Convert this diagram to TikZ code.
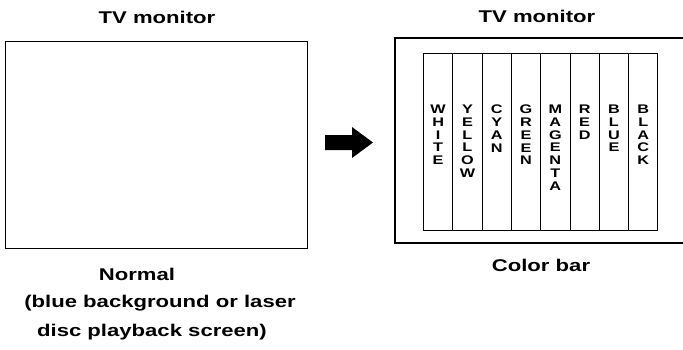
\documentclass[tikz,border=0pt]{standalone}
\usepackage{fontspec}
\setmainfont{Liberation Sans}[FakeStretch=1.3]
\usetikzlibrary{positioning}
\begin{document}
\begin{tikzpicture}[x=1pt, y=-1pt, >=stealth,
    screen/.style={draw, line width=1.2pt, inner sep=0pt, anchor=north west},
    caption/.style={font=\fontsize{17}{28.5}\bfseries, anchor=base},
    bar/.style={draw, line width=1pt, minimum width=29.3pt, minimum height=177pt, inner sep=0pt, anchor=north west},
    barlabel/.style={font=\fontsize{12.5}{12.7}\bfseries, align=center, inner sep=0pt, anchor=north}]
    \useasboundingbox (0,0) rectangle (683,349);

    % normal screen
    \node[screen, minimum width=302pt, minimum height=207pt] (normal) at (5,41) {};
    \node[caption] (tvleft) at (157,23) {TV monitor};
    \node[caption] (normaltext) at (137,280) {Normal};
    \node[caption] (normalnote) at (160,307) {(blue background or laser};
    \node[caption] (normalnote2) at (152,336) {disc playback screen)};

    % colour bar screen
    \coordinate (outertop) at (683,38);
    \coordinate (outerbot) at (683,243);
    \draw[line width=1.2pt] (outertop) -| (395,243) -- (outerbot);
    \foreach \name [count=\i from 0] in {W\\H\\I\\T\\E, Y\\E\\L\\L\\O\\W, C\\Y\\A\\N, G\\R\\E\\E\\N,
        M\\A\\G\\E\\N\\T\\A, R\\E\\D, B\\L\\U\\E, B\\L\\A\\C\\K} {
        \node[bar] (bar\i) at (423+29.3*\i, 53) {};
        \node[barlabel, below=52pt of bar\i.north] (label\i) {\name};
    }
    \node[caption] (tvright) at (537,22) {TV monitor};
    \node[caption] (colorbar) at (541,271) {Color bar};

    % arrow
    \fill (325,135) -- (352,135) -- (352,127) -- (373,142.5) -- (352,158) -- (352,150) -- (325,150) -- cycle;
\end{tikzpicture}
\end{document}
